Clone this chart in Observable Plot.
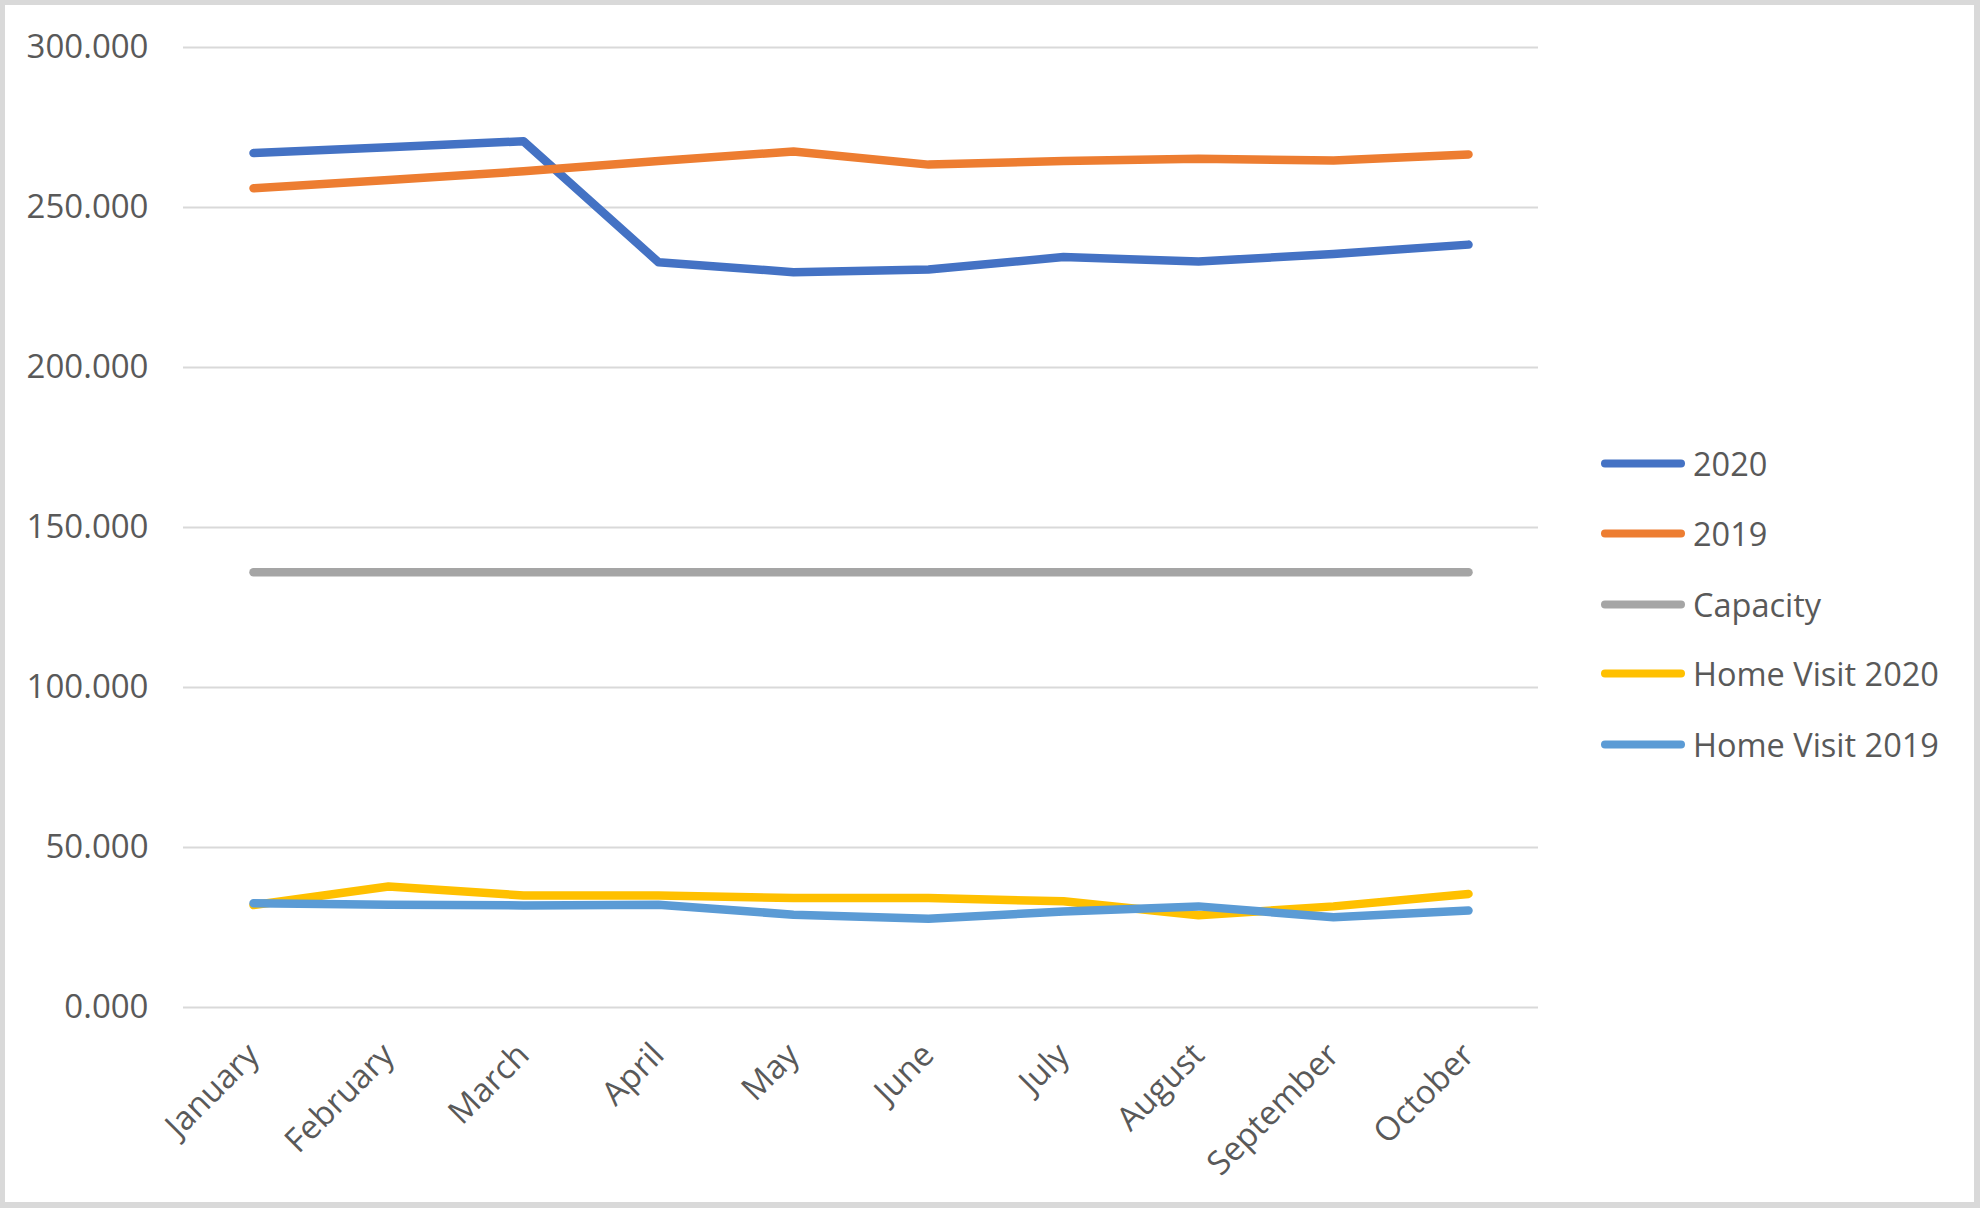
<!DOCTYPE html>
<html>
<head>
<meta charset="utf-8">
<script src="https://cdn.jsdelivr.net/npm/d3@7"></script>
<script src="https://cdn.jsdelivr.net/npm/@observablehq/plot@0.6"></script>
<style>
  html, body { margin: 0; padding: 0; background: #fff; }
  #frame {
    position: relative; box-sizing: border-box;
    width: 1980px; height: 1208px;
    border: 5px solid #d9d9d9; border-bottom-width: 6px; border-right-width: 6px;
    background: #fff; overflow: hidden;
    font-family: "Open Sans", sans-serif;
  }
  #legend { position: absolute; left: 1595px; top: 0; }
  .item { position: absolute; left: 0; display: flex; align-items: center; white-space: nowrap;
          font-size: 32.5px; color: #595959; transform: translateY(-50%); }
  .item svg { margin-right: 7px; }
</style>
</head>
<body>
<div id="frame"><div id="chart"></div><div id="legend"></div></div>
<script>
const months = ["January","February","March","April","May","June","July","August","September","October"];
const seriesNames = ["2020","2019","Capacity","Home Visit 2020","Home Visit 2019"];
const seriesColors = ["#4472C4","#ED7D31","#A5A5A5","#FFC000","#5B9BD5"];
const v2020 = [267.0, 268.8, 270.7, 232.9, 229.8, 230.6, 234.5, 233.1, 235.5, 238.4];
const v2019 = [256.0, 258.6, 261.3, 264.5, 267.5, 263.4, 264.5, 265.2, 264.7, 266.6];
const capacity = [136, 136, 136, 136, 136, 136, 136, 136, 136, 136];
const homeVisit2020 = [32.0, 37.8, 35.0, 35.0, 34.2, 34.2, 33.2, 28.8, 31.6, 35.5];
const homeVisit2019 = [32.6, 32.1, 31.9, 32.1, 29.0, 27.7, 30.0, 31.6, 28.2, 30.3];
const yTicks = [0, 50, 100, 150, 200, 250, 300];

const valuesBySeries = [v2020, v2019, capacity, homeVisit2020, homeVisit2019];
const rows = [];
seriesNames.forEach((s, i) => months.forEach((m, j) => rows.push({series: s, month: m, value: valuesBySeries[i][j]})));

const chart = Plot.plot({
  width: 1969, height: 1197,
  marginLeft: 178, marginRight: 436, marginTop: 42, marginBottom: 195,
  style: {fontFamily: "'Open Sans', sans-serif", fontSize: "33px", color: "#595959", background: "#fff"},
  x: {type: "point", domain: months, padding: 0.5, label: null},
  y: {domain: [0, 300], label: null},
  color: {domain: seriesNames, range: seriesColors},
  marks: [
    Plot.ruleY(yTicks, {stroke: "#d9d9d9", strokeWidth: 2}),
    Plot.axisY({ticks: yTicks, tickFormat: d3.format(".3f"), tickSize: 0, tickPadding: 35, label: null, fill: "#595959"}),
    Plot.axisX({tickSize: 0, tickRotate: -45, tickPadding: 42, label: null, fill: "#595959"}),
    ...seriesNames.map(s => Plot.lineY(rows.filter(r => r.series === s), {
      x: "month", y: "value", stroke: "series", strokeWidth: 8.5,
      strokeLinecap: "round", strokeLinejoin: "round"
    }))
  ]
});
document.getElementById("chart").appendChild(chart);

const legend = document.getElementById("legend");
const legendY = [458, 528, 599, 668, 739];
seriesNames.forEach((s, i) => {
  const div = document.createElement("div");
  div.className = "item";
  div.style.top = legendY[i] + "px";
  div.innerHTML = `<svg width="86" height="12"><line x1="5" y1="6" x2="81" y2="6" stroke="${seriesColors[i]}" stroke-width="8" stroke-linecap="round"/></svg><span>${s}</span>`;
  legend.appendChild(div);
});
</script>
</body>
</html>
